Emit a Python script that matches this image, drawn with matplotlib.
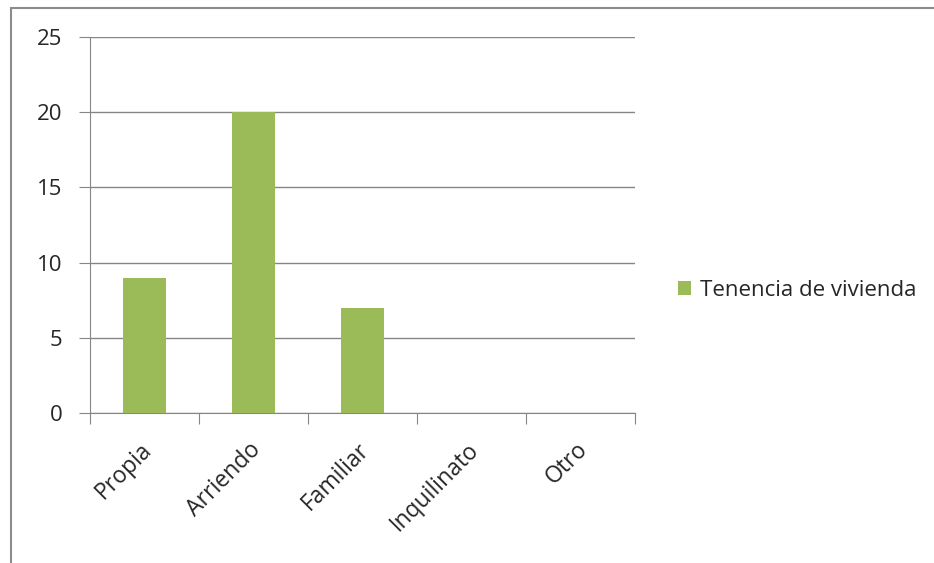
import matplotlib.pyplot as plt
from matplotlib.patches import Rectangle
from matplotlib.transforms import ScaledTranslation

# ---- data ----
categorias = ["Propia", "Arriendo", "Familiar", "Inquilinato", "Otro"]
valores = [9, 20, 7, 0, 0]
serie = "Tenencia de vivienda"
yticks = [0, 5, 10, 15, 20, 25]

verde = "#9BBB59"
gris = "#868686"
texto = "#262626"

plt.rcParams['font.family'] = ['Open Sans', 'DejaVu Sans']

fig = plt.figure(figsize=(9.34, 5.63), dpi=100)
ax = fig.add_axes([90/934, 1 - 413/563, 545/934, 376/563])

x = list(range(len(categorias)))
ax.bar(x, valores, width=0.4, color=verde, label=serie, zorder=3)

ax.set_xlim(-0.5, len(categorias) - 0.5)
ax.set_ylim(0, 25)
ax.set_yticks(yticks)
ax.yaxis.grid(True, color=gris, linewidth=1, zorder=0)

for s in ["top", "right"]:
    ax.spines[s].set_visible(False)
ax.spines["left"].set_color(gris)
ax.spines["bottom"].set_color(gris)

# ticks mayores en los limites de categoria, etiquetas en los menores
ax.set_xticks([i - 0.5 for i in range(len(categorias) + 1)])
ax.set_xticklabels([])
ax.set_xticks(x, minor=True)
ax.set_xticklabels(categorias, minor=True, rotation=45, ha="right",
                   rotation_mode="anchor", fontsize=16.5, color=texto)
ax.tick_params(axis="x", which="minor", length=0, pad=18)
ax.tick_params(axis="x", which="major", length=8, color=gris)
ax.tick_params(axis="y", length=8, color=gris, labelsize=16, labelcolor=texto, pad=12)

desplazar = ScaledTranslation(-5/100, 0, fig.dpi_scale_trans)
for lab in ax.get_xticklabels(minor=True):
    lab.set_transform(lab.get_transform() + desplazar)

ax.legend(loc="center left", bbox_to_anchor=(678/934, 0.5 - 9/563),
          bbox_transform=fig.transFigure, frameon=False, fontsize=16,
          handlelength=0.6, handleheight=0.6, handletextpad=0.4,
          borderaxespad=0, borderpad=0, labelcolor=texto)

# borde del grafico
fig.patches.append(Rectangle((11/934, -0.1), 1.0, 1 - 8/563 + 0.1,
                             transform=fig.transFigure, fill=False,
                             edgecolor="#8c8c8c", linewidth=1.5))

fig.savefig("out.png", dpi=100)
